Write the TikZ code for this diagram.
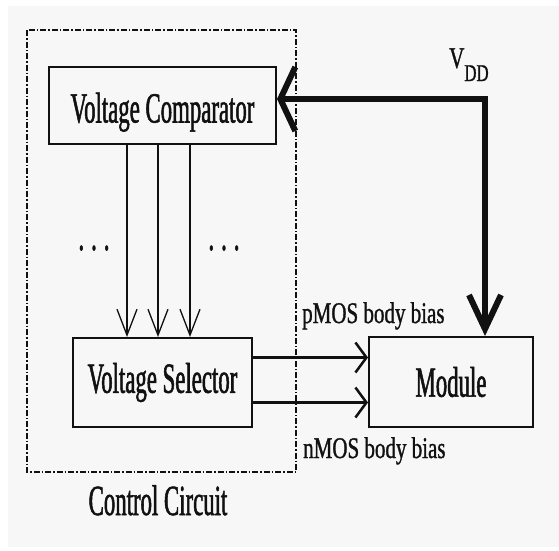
\documentclass[tikz,border=0pt]{standalone}
\usepackage{fontspec}
\setmainfont{Liberation Serif}
\newfontfamily\boxfont{Liberation Serif}[FakeStretch=0.53, FakeBold=1.2]
\newfontfamily\biasfont{Liberation Serif}[FakeStretch=0.7, FakeBold=1]
\usetikzlibrary{arrows.meta, positioning}
\definecolor{scanbg}{HTML}{F7F7F7}
\definecolor{ink}{HTML}{111111}

\begin{document}
\begin{tikzpicture}[
    x=1pt, y=-1pt,
    block/.style={rectangle, draw=ink, line width=2pt, text=ink, inner sep=0pt, font=\boxfont\fontsize{43}{45}\selectfont},
    biaslabel/.style={anchor=base west, inner sep=0pt, text=ink, font=\biasfont\fontsize{30}{32}\selectfont},
    signal/.style={draw=ink, line width=1.3pt, -{Straight Barb[length=26pt, width=20pt]}},
    bias/.style={draw=ink, line width=2.5pt, -{Straight Barb[length=11pt, width=30pt]}},
    supply/.style={draw=ink, line width=6pt}
]

% Background
\fill[white] (0,0) rectangle (559,550);
\fill[scanbg] (8,6) rectangle (559,547);
\useasboundingbox (0,0) rectangle (559,550);

% Control circuit frame
\draw[ink, line width=1.5pt, dash pattern=on 6pt off 2pt on 1.5pt off 2pt] (27,30) rectangle (296,472);
\node[anchor=base, inner sep=0pt, text=ink, font=\boxfont\fontsize{43}{45}\selectfont] (ctrl) at (158,515) {Control Circuit};

% Blocks
\node[block, minimum width=227pt, minimum height=77pt, text height=34pt, text depth=0pt] (comp) at (162.5,105.5) {Voltage Comparator};
\node[block, minimum width=179pt, minimum height=89pt] (sel) at (162.5,382.5) {Voltage Selector};
\node[block, minimum width=164pt, minimum height=90pt] (mod) at (451,382) {Module};

% Dots
\node[anchor=base, inner sep=0pt, text=ink, font=\boxfont\fontsize{43}{45}\selectfont] (ldots) at (94,250) {.\hspace{7pt}.\hspace{7pt}.};
\node[anchor=base, inner sep=0pt, text=ink, font=\boxfont\fontsize{43}{45}\selectfont] (rdots) at (224,250) {.\hspace{7pt}.\hspace{7pt}.};

% Comparator to selector
\foreach \x in {127,158,190}
    \draw[signal] (\x,0 |- comp.south) -- (\x,0 |- sel.north);

% Body bias
\draw[bias] ([yshift=25pt]sel.east) -- ([yshift=25pt]sel.east -| mod.west);
\draw[bias] ([yshift=-20pt]sel.east) -- ([yshift=-20pt]sel.east -| mod.west);
\node[biaslabel] (pbias) at (302,323) {pMOS body bias};
\node[biaslabel] (nbias) at (303,458) {nMOS body bias};

% Supply
\coordinate (vdd) at (485,99);
\draw[supply, -{Straight Barb[length=15pt, width=64pt]}] ([xshift=3pt]vdd) -- (vdd -| comp.east);
\draw[supply, -{Straight Barb[length=34pt, width=32pt]}] ([yshift=3pt]vdd) -- (vdd |- mod.north);
\node[anchor=base west, inner sep=0pt, text=ink, font=\biasfont\fontsize{30}{32}\selectfont] (vddlabel) at (449,68) {V\raisebox{-13pt}{\fontsize{24}{24}\selectfont DD}};

\end{tikzpicture}
\end{document}
